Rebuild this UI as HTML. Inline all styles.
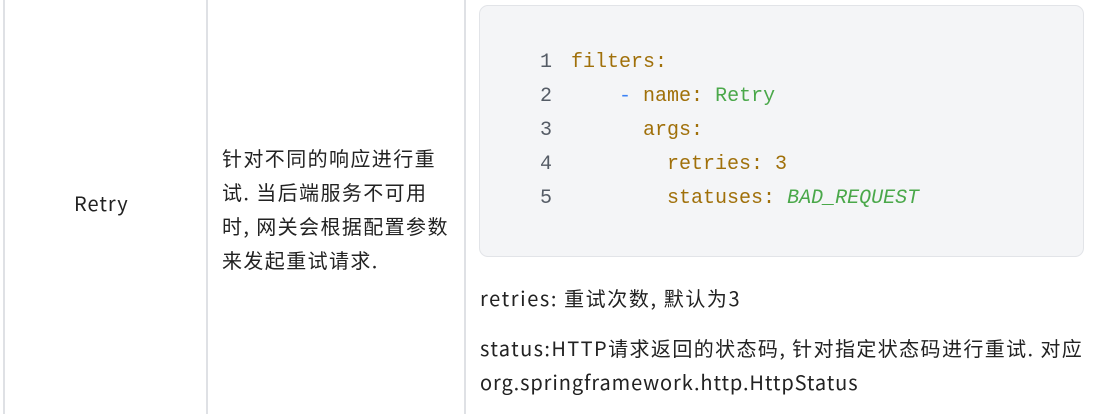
<!DOCTYPE html>
<html><head><meta charset="utf-8"><style>
body{margin:0;width:1117px;height:414px;background:#fff;position:relative;overflow:hidden;font-family:"Noto Sans CJK SC","Liberation Sans",sans-serif;color:#222;}
.v{position:absolute;top:0;width:2px;height:414px;background:#dfe1e5;}
.t{position:absolute;font-size:20px;line-height:34px;white-space:nowrap;letter-spacing:1.4px;}
.code{position:absolute;left:479px;top:5px;width:603px;height:250px;background:#f4f5f7;border:1px solid #e2e4e8;border-radius:9px;}
.ln{position:absolute;font-family:"Liberation Mono",monospace;font-size:20px;line-height:34px;white-space:pre;}
.n{color:#555c66;}.k{color:#a0700a;}.s{color:#4aa84a;}.d{color:#3b82f6;}
</style></head><body>
<div class="v" style="left:3px"></div>
<div class="v" style="left:206px"></div>
<div class="v" style="left:464px"></div>
<div class="t" style="left:74px;top:186px;letter-spacing:1px">Retry</div>
<div class="t" style="left:222px;top:141px">针对不同的响应进行重<br>试. 当后端服务不可用<br>时, 网关会根据配置参数<br>来发起重试请求.</div>
<div class="code"></div>
<div class="ln n" style="left:540px;top:46px;text-align:right">1<br>2<br>3<br>4<br>5</div>
<div class="ln" style="left:571px;top:46px"><span class="k">filters:</span>
    <span class="d">-</span> <span class="k">name:</span> <span class="s">Retry</span>
      <span class="k">args:</span>
        <span class="k">retries: 3</span>
        <span class="k">statuses:</span> <span class="s" style="font-style:italic">BAD_REQUEST</span></div>
<div class="t" style="left:480px;top:281px;letter-spacing:1.6px">retries: 重试次数, 默认为3</div>
<div class="t" style="left:480px;top:331px">status:HTTP请求返回的状态码, 针对指定状态码进行重试. 对应</div>
<div class="t" style="left:480px;top:365px;letter-spacing:0.9px">org.springframework.http.HttpStatus</div>
</body></html>
